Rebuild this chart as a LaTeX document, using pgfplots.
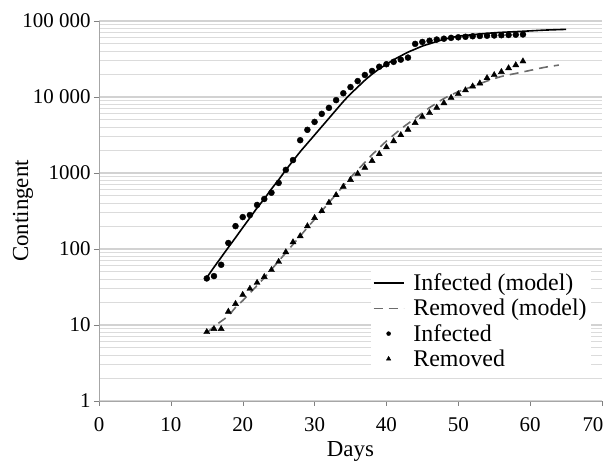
\documentclass[border=0pt]{standalone}
\usepackage{fontspec}
\setmainfont{Liberation Serif}
\usepackage{pgfplots}
\usepackage{pgfplotstable}
\pgfplotsset{compat=1.18}

% Legend samples: a 30bp line for the model curves, a single small mark for the data
\pgfplotsset{
  lineleg/.style={legend image code/.code={\draw[##1] (0bp,0bp) -- (30bp,0bp);}},
  markleg/.style={legend image code/.code={\draw[##1, mark size=#1] plot coordinates {(15bp,0bp)};}},
}

% Model curve: infected
\pgfplotstableread{
day value
15 42
16 57.5
17 77.6
18 105
19 141
20 191
21 257
22 347
23 457
24 617
25 813
26 1096
27 1445
28 1905
29 2455
30 3162
31 4074
32 5248
33 6761
34 8710
35 10965
36 13490
37 16600
38 19950
39 23440
40 26900
41 30900
42 34700
43 38900
44 42660
45 46770
46 50100
47 53700
48 57500
49 60260
50 63100
52 66070
55 70000
58 72440
60 74130
62 75860
65 77620
}\infmodel

% Model curve: removed
\pgfplotstableread{
day value
15 7.9
16 9.5
17 11.2
18 13.2
19 17.0
20 20.9
21 26.3
22 33.1
23 41.7
24 53.7
25 69.2
26 89.1
27 115
28 148
29 191
30 245
31 316
32 407
33 525
34 676
35 871
36 1096
37 1380
38 1738
39 2138
40 2630
41 3162
42 3802
43 4467
44 5248
45 6166
46 7244
47 8318
48 9550
50 11750
52 13800
54 16220
56 18620
58 20420
60 22390
62 24550
64 26300
}\remmodel

% Observed infected
\pgfplotstableread{
day value
15 41
16 44
17 62
18 120
19 200
20 263
21 280
22 380
23 455
24 550
25 740
26 1100
27 1480
28 2700
29 3700
30 4700
31 6000
32 7200
33 9100
34 11200
35 13500
36 16200
37 19500
38 22000
39 25000
40 27000
41 29000
42 31000
43 33000
44 50000
45 53000
46 55000
47 57000
48 58500
49 60000
50 61000
51 62000
52 63000
53 63500
54 64000
55 64500
56 65000
57 65500
58 66000
59 66500
}\infdata

% Observed removed
\pgfplotstableread{
day value
15 8.1
16 8.9
17 8.9
18 15
19 19
20 25
21 30
22 36
23 43
24 53
25 68
26 91
27 123
28 148
29 200
30 257
31 316
32 407
33 513
34 661
35 813
36 977
37 1175
38 1445
39 1778
40 2188
41 2630
42 3162
43 3715
44 4571
45 5495
46 6166
47 7244
48 8318
49 9772
50 10965
51 12300
52 13800
53 15140
54 17780
55 19500
56 21380
57 23990
58 26300
59 29500
}\remdata

\begin{document}
\begin{tikzpicture}
\useasboundingbox (-99bp,-63bp) rectangle (507bp,401bp);
\begin{axis}[
  at={(0,0)}, anchor=south west,
  scale only axis, width=503bp, height=380bp,
  ymode=log, log basis y=10,
  xmin=0, xmax=70, ymin=1, ymax=100000,
  xtick={0,10,...,70},
  xticklabels={0,10,20,30,40,50,60,{\kern-9bp 70\kern9bp}},
  ytick={1,10,100,1000,10000,100000},
  yticklabels={1,10,100,1000,10~000,100~000},
  minor ytick={2,3,4,5,6,7,8,9,20,30,40,50,60,70,80,90,
    200,300,400,500,600,700,800,900,2000,3000,4000,5000,6000,7000,8000,9000,
    20000,30000,40000,50000,60000,70000,80000,90000},
  /pgf/number format/assume math mode=true,
  axis x line=bottom, axis y line=left,
  axis line style={draw=gray!70, line width=0.8bp, -},
  major tick length=5bp, minor tick length=0pt,
  tick align=outside,
  grid=both, xmajorgrids=false, xminorgrids=false,
  ymajorgrids=true, yminorgrids=true,
  major grid style={draw=gray!35, line width=1.2bp},
  minor grid style={draw=gray!28, line width=1.2bp},
  xticklabel style={font=\fontsize{21}{21}\selectfont, yshift=-8bp},
  yticklabel style={font=\fontsize{21}{21}\selectfont},
  label style={font=\fontsize{23}{23}\selectfont},
  xlabel={Days}, ylabel={Contingent},
  xlabel style={at={(axis description cs:0.5,-0.134)}, anchor=center},
  ylabel style={at={(axis description cs:-0.151,0.5)}, anchor=center},
  legend cell align=left,
  legend style={at={(0.54,0.345)}, anchor=north west, draw=none, fill=white,
    font=\fontsize{24}{24}\selectfont, inner sep=2bp, row sep=3bp,
    /tikz/every odd column/.append style={column sep=7bp}},
]
\addplot[black, line width=1.6bp, smooth, lineleg]
  table[x=day, y=value] {\infmodel};
\addlegendentry{Infected (model)}
\addplot[color=gray!85!black, line width=1.6bp, smooth, dash pattern=on 9bp off 6bp, lineleg]
  table[x=day, y=value] {\remmodel};
\addlegendentry{Removed (model)}
\addplot[only marks, mark=*, mark size=3bp, black, markleg=2bp]
  table[x=day, y=value] {\infdata};
\addlegendentry{Infected}
\addplot[only marks, mark=triangle*, mark size=3.5bp, black, markleg=2.5bp]
  table[x=day, y=value] {\remdata};
\addlegendentry{Removed}
\end{axis}
\end{tikzpicture}
\end{document}
